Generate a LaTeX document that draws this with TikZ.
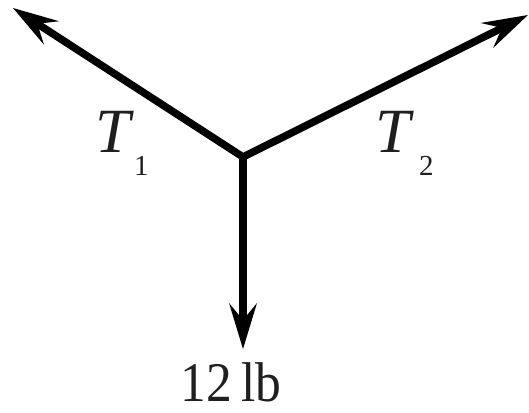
\documentclass[tikz,border=0pt]{standalone}
\usepackage{fontspec}
\setmainfont{Liberation Serif}
\usetikzlibrary{arrows.meta}
\tikzset{
  force/.style={line width=7.5pt, line join=miter,
    arrows={-Stealth[length=46pt,width=28pt,inset=17pt,line width=0pt]}},
  forcetwo/.style={line width=7.5pt, line join=miter,
    arrows={Stealth[length=46pt,width=28pt,inset=17pt,line width=0pt]-Stealth[length=46pt,width=28pt,inset=17pt,line width=0pt]}},
  lbl/.style={inner sep=0pt, anchor=base west, text=black!88}
}
\begin{document}
\begin{tikzpicture}[x=1pt,y=-1pt]
\useasboundingbox (0,0) rectangle (529,412);
\coordinate (c) at (243,157);
\coordinate (l) at (13,8);
\coordinate (r) at (528,15);
\coordinate (d) at (243,349);
\draw[forcetwo] (l) -- (c) -- (r);
\draw[force] (c) -- (d);
\node[lbl] (t1) at (95,152) {\fontsize{63}{63}\selectfont\itshape T};
\node[lbl] (s1) at (134,175) {\fontsize{29}{29}\selectfont 1};
\node[lbl] (t2) at (375,152) {\fontsize{63}{63}\selectfont\itshape T};
\node[lbl] (s2) at (419,175) {\fontsize{29}{29}\selectfont 2};
\node[inner sep=0pt, anchor=base, text=black!88] (w) at (231,401) {\scalebox{0.92}[1]{\fontsize{56}{56}\selectfont 12\kern-4pt\ lb}};
\end{tikzpicture}
\end{document}
